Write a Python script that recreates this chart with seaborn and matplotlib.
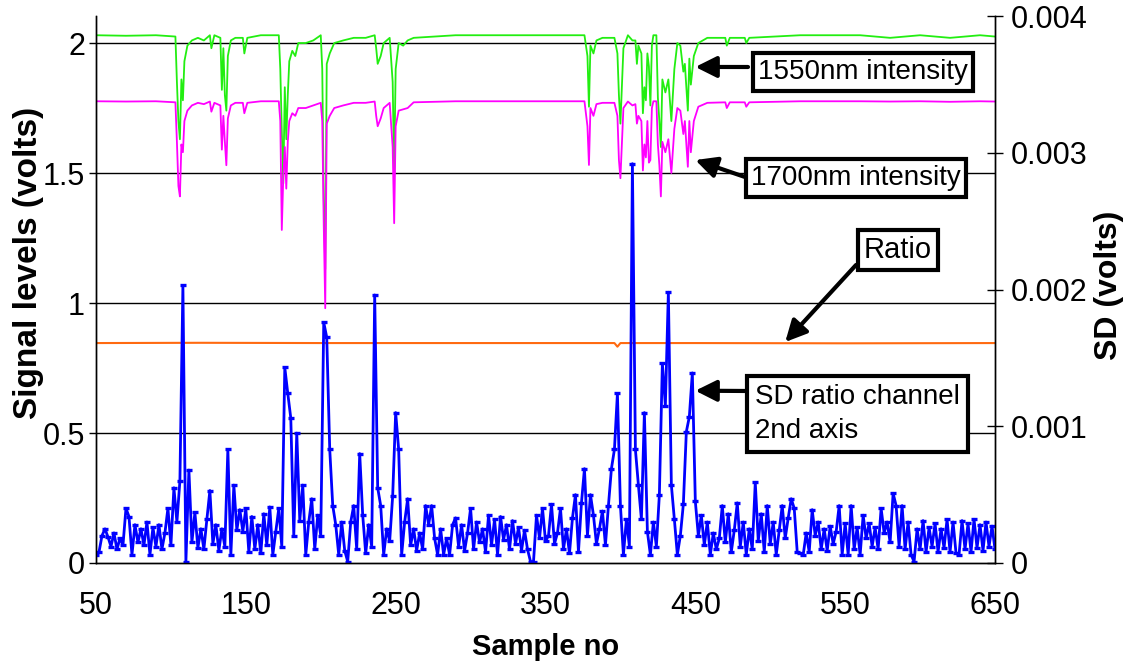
import numpy as np
import seaborn as sns
import matplotlib.pyplot as plt

# 1550nm intensity (left axis, volts)
g_x = [50, 70, 90, 103, 104, 105, 106, 107, 108, 109,
       111, 114, 118, 122, 126, 127, 129, 133, 134, 135,
       136, 137, 138, 140, 143, 148, 149, 151, 160, 172,
       173, 174, 175, 176, 177, 178, 179, 181, 183, 185,
       190, 195, 200, 201, 202, 203, 204, 206, 209, 215,
       222, 230, 236, 237, 238, 240, 242, 246, 248, 249,
       250, 252, 255, 258, 262, 290, 330, 376, 378, 379,
       380, 382, 384, 388, 396, 398, 399, 400, 402, 405,
       408, 410, 411, 412, 414, 415, 416, 417, 418, 419,
       420, 421, 422, 424, 425, 426, 427, 428, 430, 432,
       434, 436, 438, 440, 442, 443, 445, 446, 447, 449,
       452, 458, 470, 471, 473, 483, 484, 486, 520, 560,
       580, 600, 620, 640, 650]
g_1550 = [2.030, 2.028, 2.030, 2.025, 1.85, 1.70, 1.63, 1.86, 1.78, 1.93,
          1.99, 2.01, 2.02, 2.01, 2.03, 1.98, 2.03, 2.02, 1.82, 1.98,
          1.80, 1.74, 1.95, 2.01, 2.02, 2.02, 1.96, 2.02, 2.03, 2.03,
          1.90, 1.66, 1.46, 1.83, 1.63, 1.80, 1.93, 1.97, 1.95, 2.00,
          2.00, 2.01, 2.03, 1.90, 1.40, 1.13, 1.92, 1.96, 2.00, 2.01,
          2.02, 2.02, 2.03, 1.98, 1.92, 1.95, 2.00, 2.02, 1.85, 1.50,
          1.90, 2.00, 1.99, 2.01, 2.02, 2.03, 2.03, 2.03, 1.95, 1.755,
          1.99, 1.96, 2.01, 2.02, 2.02, 1.96, 1.80, 1.69, 1.98, 2.03,
          2.01, 2.01, 1.92, 1.99, 1.96, 1.73, 1.83, 1.78, 1.96, 1.91,
          1.76, 1.99, 2.03, 2.03, 1.79, 1.70, 1.60, 1.86, 1.81, 1.86,
          1.70, 1.90, 2.00, 1.99, 1.89, 1.92, 1.74, 1.94, 1.84, 1.95,
          2.00, 2.02, 2.02, 1.99, 2.02, 2.02, 2.00, 2.02, 2.03, 2.03,
          2.02, 2.03, 2.02, 2.03, 2.025]

# 1700nm intensity, same sample positions
g_1700 = [1.776, 1.775, 1.776, 1.772, 1.62, 1.45, 1.41, 1.61, 1.58, 1.70,
          1.74, 1.76, 1.77, 1.765, 1.775, 1.736, 1.77, 1.76, 1.59, 1.72,
          1.62, 1.53, 1.71, 1.76, 1.77, 1.77, 1.73, 1.77, 1.776, 1.776,
          1.70, 1.281, 1.486, 1.60, 1.44, 1.62, 1.70, 1.73, 1.72, 1.75,
          1.75, 1.76, 1.77, 1.70, 1.30, 0.98, 1.69, 1.72, 1.75, 1.76,
          1.77, 1.77, 1.775, 1.72, 1.68, 1.71, 1.75, 1.77, 1.60, 1.307,
          1.68, 1.74, 1.745, 1.75, 1.772, 1.776, 1.776, 1.776, 1.68, 1.531,
          1.75, 1.72, 1.765, 1.77, 1.77, 1.72, 1.55, 1.48, 1.75, 1.775,
          1.76, 1.765, 1.69, 1.72, 1.70, 1.51, 1.61, 1.56, 1.70, 1.54,
          1.55, 1.75, 1.776, 1.776, 1.61, 1.53, 1.41, 1.62, 1.58, 1.63,
          1.50, 1.67, 1.75, 1.74, 1.65, 1.70, 1.524, 1.70, 1.58, 1.70,
          1.755, 1.77, 1.772, 1.75, 1.772, 1.772, 1.755, 1.772, 1.776, 1.776,
          1.775, 1.776, 1.774, 1.776, 1.775]

# ratio channel
ratio_x = [50, 120, 200, 300, 396, 398, 400, 450, 550, 650]
ratio = [0.846, 0.847, 0.846, 0.846, 0.846, 0.832, 0.846, 0.846, 0.845, 0.846]

# SD of ratio channel (right axis), every 2nd sample from 50 to 650, in 1e-4 volts
sd_x = list(range(50, 651, 2))
sd_e4 = [0.6, 0.8, 2.0, 2.5, 1.9, 1.2, 2.2, 1.0, 1.8, 1.3,
         4.0, 3.4, 0.6, 2.8, 1.5, 2.5, 1.3, 3.0, 0.6, 2.6,
         1.2, 2.8, 1.0, 2.2, 4.0, 1.3, 5.5, 3.0, 6.0, 20.3,
         0.1, 6.8, 1.5, 3.7, 1.1, 2.5, 1.0, 3.2, 5.3, 1.4,
         2.8, 0.9, 2.5, 1.2, 8.3, 0.6, 5.7, 2.4, 3.9, 2.3,
         4.0, 0.8, 3.4, 1.0, 2.8, 0.7, 3.6, 1.3, 4.1, 0.6,
         2.3, 4.0, 1.2, 14.3, 12.4, 10.6, 2.0, 9.5, 3.1, 5.7,
         0.6, 3.0, 4.7, 1.0, 3.5, 2.0, 17.6, 16.5, 8.3, 4.2,
         2.8, 0.6, 3.0, 0.9, 0.1, 3.0, 4.2, 1.0, 8.0, 3.5,
         0.7, 2.8, 1.2, 19.6, 5.5, 4.2, 0.6, 2.5, 1.6, 4.9,
         11.0, 8.3, 0.6, 3.0, 4.7, 1.3, 2.5, 0.9, 2.2, 1.0,
         4.2, 2.8, 4.2, 1.8, 0.6, 2.5, 0.6, 1.8, 0.6, 2.8,
         3.3, 1.2, 2.8, 0.9, 2.2, 4.0, 1.0, 3.0, 1.5, 2.5,
         0.8, 3.5, 1.3, 3.2, 0.6, 3.4, 1.7, 2.8, 1.0, 3.1,
         1.4, 2.6, 0.9, 2.4, 1.0, 0.1, 0.1, 3.5, 1.8, 4.0,
         1.6, 2.0, 4.3, 1.4, 2.2, 4.0, 1.0, 2.5, 0.7, 3.3,
         5.0, 0.8, 4.4, 6.9, 2.0, 5.0, 3.5, 1.4, 2.5, 3.8,
         1.3, 4.2, 6.9, 8.3, 12.4, 4.2, 0.6, 3.2, 1.2, 29.2,
         8.3, 5.7, 3.2, 11.0, 2.3, 0.6, 3.0, 1.2, 5.0, 14.6,
         11.5, 19.8, 5.7, 3.2, 0.6, 2.0, 4.3, 9.6, 10.7, 13.9,
         4.5, 2.0, 3.5, 1.3, 3.0, 0.6, 2.2, 1.0, 1.8, 4.2,
         1.5, 3.6, 0.8, 2.4, 4.4, 1.2, 3.0, 0.6, 2.5, 1.0,
         5.9, 1.6, 3.6, 0.8, 4.2, 1.4, 3.0, 0.6, 2.4, 4.2,
         1.8, 3.3, 4.7, 4.0, 0.8, 0.7, 0.6, 2.2, 0.8, 3.9,
         2.0, 3.0, 1.0, 2.5, 0.9, 2.7, 1.4, 2.3, 4.2, 0.6,
         2.9, 0.6, 4.2, 1.0, 2.6, 0.6, 3.5, 1.8, 2.9, 1.2,
         2.6, 1.0, 4.0, 2.2, 3.0, 1.5, 5.1, 4.2, 1.2, 4.2,
         1.0, 3.0, 0.6, 0.1, 2.5, 1.0, 3.1, 0.8, 2.6, 1.2,
         2.9, 0.8, 2.5, 1.1, 3.2, 0.8, 3.0, 0.7, 0.6, 3.1,
         1.0, 2.9, 0.8, 3.2, 1.1, 2.8, 0.9, 3.0, 1.2, 2.7,
         1.0]
sd_volts = np.array(sd_e4) * 1e-4

x_ticks = [50, 150, 250, 350, 450, 550, 650]
left_ticks = [0, 0.5, 1, 1.5, 2]
left_labels = ['0', '0.5', '1', '1.5', '2']
right_ticks = [0, 0.001, 0.002, 0.003, 0.004]
right_labels = ['0', '0.001', '0.002', '0.003', '0.004']

sns.set_style('white')
plt.rcParams['font.family'] = ['Liberation Sans', 'DejaVu Sans']
plt.rcParams['axes.labelcolor'] = 'black'
plt.rcParams['text.color'] = 'black'

W, H = 1125, 662
fig = plt.figure(figsize=(W / 100, H / 100), dpi=100)
ax = fig.add_axes([96 / W, 1 - 563 / H, (995 - 96) / W, (563 - 16) / H])
ax2 = ax.twinx()

sns.lineplot(x=g_x, y=g_1550, ax=ax, color='#22ee11', lw=1.3, estimator=None, sort=False)
sns.lineplot(x=g_x, y=g_1700, ax=ax, color='#ff00ff', lw=1.3, estimator=None, sort=False)
sns.lineplot(x=ratio_x, y=ratio, ax=ax, color='#ff6a10', lw=1.5, estimator=None, sort=False)
sns.lineplot(x=sd_x, y=sd_volts, ax=ax2, color='#0000ff', lw=2.0, estimator=None, sort=False,
             marker='_', markersize=5, markeredgewidth=2.4, markeredgecolor='#0000ff')

ax.set_xlim(50, 650)
ax.set_ylim(0, 2.104)
ax2.set_ylim(0, 0.004)

ax.set_xticks(x_ticks)
ax.set_xticklabels([str(t) for t in x_ticks])
ax.set_yticks(left_ticks)
ax.set_yticklabels(left_labels)
ax2.set_yticks(right_ticks)
ax2.set_yticklabels(right_labels)

for a in (ax, ax2):
    a.spines['top'].set_visible(False)
    for s in ('left', 'right', 'bottom'):
        a.spines[s].set_color('black')
        a.spines[s].set_linewidth(1.0)
    a.grid(False)

for y in left_ticks[1:]:
    ax.axhline(y, color='black', lw=1.0, zorder=0)

ax.tick_params(axis='x', direction='out', length=6, width=1, colors='black', labelsize=22, pad=14)
ax.tick_params(axis='y', direction='out', length=5, width=1, colors='black', labelsize=22, pad=3)
ax2.tick_params(axis='y', direction='inout', length=12, width=1, colors='black', labelsize=22, pad=5)

ax.set_xlabel('Sample no', fontsize=21, fontweight='bold', labelpad=9)
ax.set_ylabel('Signal levels (volts)', fontsize=24, fontweight='bold')
ax.yaxis.set_label_coords(-0.058, 0.548)
ax2.set_ylabel('SD (volts)', fontsize=23, fontweight='bold')
ax2.yaxis.set_label_coords(1.110, 0.508)

# arrows: tail in figure pixels, tip on the data
arrow = dict(arrowstyle='-|>', lw=3, color='black', mutation_scale=32, shrinkA=0, shrinkB=0)
ax.annotate('', xy=(450, 1.908), xytext=(748, H - 67), textcoords='figure pixels', arrowprops=arrow)
ax.annotate('', xy=(450, 1.55), xytext=(745, H - 177), textcoords='figure pixels', arrowprops=arrow)
ax.annotate('', xy=(510, 0.85), xytext=(856, H - 265), textcoords='figure pixels', arrowprops=arrow)
ax2.annotate('', xy=(450, 0.00126), xytext=(748, H - 391), textcoords='figure pixels', arrowprops=arrow)

box = dict(boxstyle='square,pad=0.2', fc='white', ec='black', lw=3)
fig.text(863 / W, 1 - 72 / H, '1550nm intensity', fontsize=20, ha='center', va='center', bbox=box)
fig.text(856 / W, 1 - 178 / H, '1700nm intensity', fontsize=20, ha='center', va='center', bbox=box)
fig.text(898 / W, 1 - 250 / H, 'Ratio', fontsize=21, ha='center', va='center', bbox=box)
fig.text(755 / W, 1 - 414 / H, 'SD ratio channel\n2nd axis', fontsize=20, ha='left', va='center',
         linespacing=1.4, bbox=dict(boxstyle='square,pad=0.3', fc='white', ec='black', lw=3))

plt.savefig('out.png', dpi=100)
